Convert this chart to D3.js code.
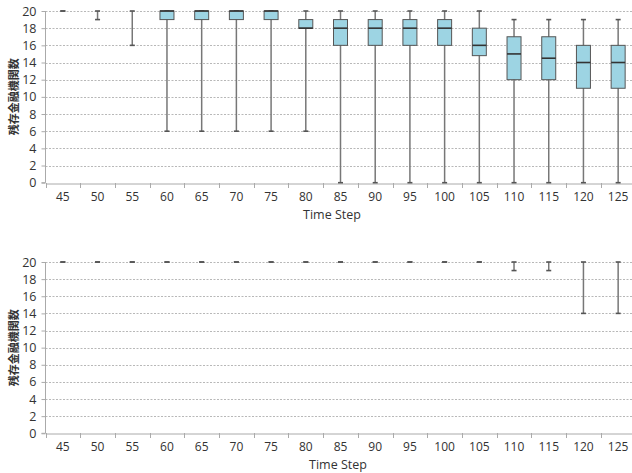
<!DOCTYPE html>
<html><head><meta charset="utf-8">
<script src="https://cdn.jsdelivr.net/npm/d3@7"></script>
<style>body{margin:0;background:#fff;} svg{display:block;}</style>
</head><body>
<svg id="c" width="632" height="473"></svg>
<script>
const categories = ["45","50","55","60","65","70","75","80","85","90","95","100","105","110","115","120","125"];
// top chart: [min, q1, median, q3, max]
const topMin    = [20,19,16, 6, 6, 6, 6, 6, 0, 0, 0, 0, 0, 0, 0, 0, 0];
const topQ1     = [20,20,20,19,19,19,19,18,16,16,16,16,14.8,12,12,11,11];
const topMedian = [20,20,20,20,20,20,20,18,18,18,18,18,16,15,14.5,14,14];
const topQ3     = [20,20,20,20,20,20,20,19,19,19,19,19,18,17,17,16,16];
const topMax    = [20,20,20,20,20,20,20,20,20,20,20,20,20,19,19,19,19];
// bottom chart
const botMin    = [20,20,20,20,20,20,20,20,20,20,20,20,20,19,19,14,14];
const botQ1     = [20,20,20,20,20,20,20,20,20,20,20,20,20,20,20,20,20];
const botMedian = [20,20,20,20,20,20,20,20,20,20,20,20,20,20,20,20,20];
const botQ3     = [20,20,20,20,20,20,20,20,20,20,20,20,20,20,20,20,20];
const botMax    = [20,20,20,20,20,20,20,20,20,20,20,20,20,20,20,20,20];
const yTicks = [0,2,4,6,8,10,12,14,16,18,20];
const yLabel = "残存金融機関数";
const xLabel = "Time Step";

const svg = d3.select("#c");
const font = "'Open Sans', 'Noto Sans', sans-serif";

function panel(top, bottom, mins, q1s, meds, q3s, maxs, xLabY, xLabX) {
  const x = d3.scaleBand().domain(categories).range([45.5, 635.5]);
  const y = d3.scaleLinear().domain([0,20]).range([bottom, top]);
  const g = svg.append("g");
  // grid
  g.selectAll(".grid").data(yTicks.filter(d=>d>0)).join("line")
    .attr("x1", 45.5).attr("x2", 632)
    .attr("y1", d=>Math.round(y(d))+0.5).attr("y2", d=>Math.round(y(d))+0.5)
    .attr("stroke", "#b8b8b8").attr("stroke-width", 1).attr("stroke-dasharray", "2,1.5");
  // y axis
  const ya = g.append("g").attr("transform", "translate(45.5,0)")
    .call(d3.axisLeft(y).tickValues(yTicks).tickSize(4).tickPadding(5));
  ya.select(".domain").attr("stroke", "#aaa").attr("d", `M-4,${y(0)}H0V${y(20)}`);
  ya.selectAll(".tick line").attr("stroke", "#aaa");
  ya.selectAll("text").attr("font-family", font).attr("font-size", 12.5).attr("fill", "#333");
  // x axis
  const xa = g.append("g").attr("transform", `translate(0,${Math.round(y(0))+0.5})`)
    .call(d3.axisBottom(x).tickSize(0).tickPadding(9));
  xa.select(".domain").attr("stroke", "#aaa");
  xa.selectAll("text").attr("font-family", font).attr("font-size", 12).attr("fill", "#333");
  g.selectAll(".xt").data(categories).join("line")
    .attr("x1", d=>Math.round(x(d))+0.5).attr("x2", d=>Math.round(x(d))+0.5)
    .attr("y1", Math.round(y(0))).attr("y2", Math.round(y(0))+5)
    .attr("stroke", "#aaa");
  // boxes
  const bw = 14, cw = 5;
  categories.forEach((c,i) => {
    const cx = x(c) + x.bandwidth()/2;
    if (maxs[i] > mins[i]) {
      g.append("line").attr("x1", cx).attr("x2", cx).attr("y1", y(mins[i])).attr("y2", y(maxs[i]))
        .attr("stroke", "#777").attr("stroke-width", 1.5);
    }
    [mins[i], maxs[i]].forEach(v => {
      g.append("line").attr("x1", cx-cw/2).attr("x2", cx+cw/2).attr("y1", y(v)).attr("y2", y(v))
        .attr("stroke", "#555").attr("stroke-width", 1.6);
    });
    if (q3s[i] > q1s[i]) {
      g.append("rect").attr("x", cx-bw/2).attr("width", bw)
        .attr("y", y(q3s[i])).attr("height", y(q1s[i]) - y(q3s[i]))
        .attr("fill", "#9dd4e3").attr("stroke", "#555").attr("stroke-width", 1);
      g.append("line").attr("x1", cx-bw/2).attr("x2", cx+bw/2).attr("y1", y(meds[i])).attr("y2", y(meds[i]))
        .attr("stroke", "#333").attr("stroke-width", 1.6);
    }
  });
  svg.append("text").attr("x", xLabX).attr("y", xLabY).attr("text-anchor","middle")
    .attr("font-family", font).attr("font-size", 12.5).attr("fill", "#333").text(xLabel);
  svg.append("text").attr("transform", `translate(18,${(top+bottom)/2}) rotate(-90)`)
    .attr("text-anchor","middle").attr("font-family", "'Noto Sans CJK JP', sans-serif")
    .attr("font-size", 11).attr("font-weight", "bold").attr("fill", "#333").text(yLabel);
}
panel(11, 182.7, topMin, topQ1, topMedian, topQ3, topMax, 219, 332);
panel(262, 433.3, botMin, botQ1, botMedian, botQ3, botMax, 468.5, 338);
</script>
</body></html>
